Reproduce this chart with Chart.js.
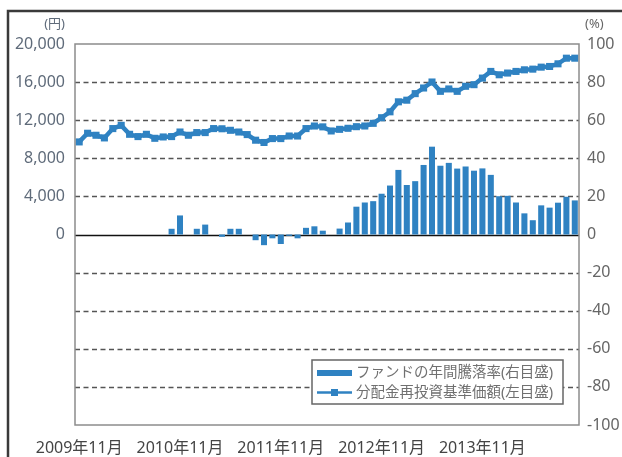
<!DOCTYPE html>
<html><head><meta charset="utf-8">
<script src="https://cdn.jsdelivr.net/npm/chart.js@4/dist/chart.umd.min.js"></script>
<style>html,body{margin:0;padding:0;background:#fff}#wrap{position:relative;width:622px;height:457px}</style>
</head><body><div id="wrap"><canvas id="c" width="622" height="457"></canvas></div>
<script>
const categories = [
"2009/11","2009/12",
"2010/01","2010/02","2010/03","2010/04","2010/05","2010/06","2010/07","2010/08","2010/09","2010/10","2010/11","2010/12",
"2011/01","2011/02","2011/03","2011/04","2011/05","2011/06","2011/07","2011/08","2011/09","2011/10","2011/11","2011/12",
"2012/01","2012/02","2012/03","2012/04","2012/05","2012/06","2012/07","2012/08","2012/09","2012/10","2012/11","2012/12",
"2013/01","2013/02","2013/03","2013/04","2013/05","2013/06","2013/07","2013/08","2013/09","2013/10","2013/11","2013/12",
"2014/01","2014/02","2014/03","2014/04","2014/05","2014/06","2014/07","2014/08","2014/09","2014/10"];
const tickCategories = ["2009/11","2010/11","2011/11","2012/11","2013/11"];
const tickLabels = ["2009年11月","2010年11月","2011年11月","2012年11月","2013年11月"];
// 分配金再投資基準価額 (円, left axis)
const navValues = [9720,10630,10420,10140,11120,11460,10520,10280,10520,10100,
10240,10280,10760,10420,10700,10700,11120,11100,10940,10760,
10490,9900,9660,10070,10070,10340,10340,11120,11390,11300,
10870,11040,11150,11320,11390,11670,12260,12880,13930,14100,
14790,15380,16010,15030,15280,15030,15560,15730,16420,17120,
16770,16950,17120,17290,17360,17570,17640,17920,18510,18510];
// ファンドの年間騰落率 (%, right axis)
const returnValues = [null,null,null,null,null,null,null,null,null,null,
null,3,10,null,3,5.2,null,-1.2,3,3,
null,-3,-5.6,-2,-5,-0.7,-2,3.5,4.3,2,
null,3.1,6.3,14.6,16.8,17.5,21.4,25.7,33.9,26,
28,36.5,46.1,36.1,37.6,34.6,35.7,33.5,34.7,31.3,
20.1,20.3,16.8,11.1,7.5,15.3,14.1,16.7,19.8,17.9];
const seriesNames = ["ファンドの年間騰落率(右目盛)","分配金再投資基準価額(左目盛)"];
const leftUnit = "(円)", rightUnit = "(%)";

const BLUE = '#2f82c2';
const FONT = "'Noto Sans', 'Noto Sans CJK JP', sans-serif";

const decor = {
  id: 'decor',
  beforeDraw(chart) {
    const ctx = chart.ctx;
    ctx.save();
    ctx.fillStyle = '#fff';
    ctx.fillRect(0, 0, chart.width, chart.height);
    ctx.strokeStyle = '#3a3a3a';
    ctx.lineWidth = 2.5;
    ctx.beginPath();
    ctx.moveTo(8, chart.height + 2);
    ctx.lineTo(8, 11);
    ctx.lineTo(chart.width + 2, 11);
    ctx.stroke();
    ctx.restore();
  },
  beforeDatasetsDraw(chart) {
    const ctx = chart.ctx, a = chart.chartArea, s = chart.scales.y1;
    ctx.save();
    s.ticks.forEach(t => {
      if (t.value === s.max || t.value === s.min) return;
      const y = Math.round(s.getPixelForValue(t.value)) + 0.5;
      ctx.beginPath();
      if (t.value === 0) {
        ctx.setLineDash([]);
        ctx.strokeStyle = '#111';
        ctx.lineWidth = 1.5;
      } else {
        ctx.setLineDash([5, 3.5]);
        ctx.strokeStyle = '#555';
        ctx.lineWidth = 1.3;
      }
      ctx.moveTo(a.left, y);
      ctx.lineTo(a.right, y);
      ctx.stroke();
    });
    ctx.restore();
  },
  afterDatasetsDraw(chart) {
    const ctx = chart.ctx, a = chart.chartArea;
    ctx.save();
    ctx.strokeStyle = '#8c8c8c';
    ctx.lineWidth = 1.5;
    ctx.strokeRect(a.left, a.top, a.right - a.left, a.bottom - a.top);
    ctx.restore();
  },
  afterDraw(chart) {
    const ctx = chart.ctx, a = chart.chartArea;
    ctx.save();
    ctx.font = "13px " + FONT;
    ctx.fillStyle = '#5f6b7a';
    ctx.textBaseline = 'middle';
    ctx.textAlign = 'right';
    ctx.fillText(leftUnit, a.left - 10, 24);
    ctx.fillStyle = '#666';
    ctx.textAlign = 'left';
    ctx.fillText(rightUnit, a.right + 6, 24);
    // legend
    const lx = 312, ly = 360, lw = 251, lh = 44;
    ctx.fillStyle = '#fff';
    ctx.fillRect(lx, ly, lw, lh);
    ctx.strokeStyle = '#666';
    ctx.lineWidth = 1.5;
    ctx.strokeRect(lx, ly, lw, lh);
    ctx.fillStyle = BLUE;
    ctx.fillRect(317, 370, 35, 6);
    ctx.strokeStyle = BLUE;
    ctx.lineWidth = 2.5;
    ctx.beginPath();
    ctx.moveTo(317, 392.5);
    ctx.lineTo(352, 392.5);
    ctx.stroke();
    ctx.fillRect(331, 389, 7, 7);
    ctx.font = "14.5px " + FONT;
    ctx.fillStyle = '#707070';
    ctx.textAlign = 'left';
    ctx.textBaseline = 'middle';
    ctx.fillText(seriesNames[0], 356, 373);
    ctx.fillText(seriesNames[1], 356, 393);
    ctx.restore();
  }
};

new Chart(document.getElementById('c'), {
  type: 'bar',
  data: {
    labels: categories,
    datasets: [
      {
        type: 'line', label: seriesNames[1], data: navValues, yAxisID: 'y', order: 0,
        borderColor: BLUE, backgroundColor: BLUE, borderWidth: 4.5,
        pointStyle: 'rect', pointRadius: 5, pointBorderWidth: 0, pointBackgroundColor: BLUE,
        tension: 0, fill: false
      },
      {
        type: 'bar', label: seriesNames[0], data: returnValues, yAxisID: 'y1', order: 1,
        backgroundColor: BLUE, borderWidth: 0, barPercentage: 0.72, categoryPercentage: 1
      }
    ]
  },
  options: {
    responsive: false, animation: false, maintainAspectRatio: false,
    layout: { padding: { top: 44, left: 0, right: 0, bottom: 0 } },
    plugins: { legend: { display: false }, tooltip: { enabled: false } },
    scales: {
      x: {
        grid: { display: false, drawTicks: false }, border: { display: false },
        ticks: {
          autoSkip: false, maxRotation: 0, minRotation: 0, padding: 14,
          color: '#444', font: { family: FONT, size: 16 },
          callback: function (v, i) {
            const k = tickCategories.indexOf(categories[i]);
            return k >= 0 ? tickLabels[k] : '';
          }
        },
        afterFit(s) { s.height = 32; }
      },
      y: {
        position: 'left', min: -20000, max: 20000,
        grid: { display: false, drawTicks: false }, border: { display: false },
        ticks: {
          stepSize: 4000, padding: 10, color: '#5f6b7a', font: { family: FONT, size: 16 },
          callback: v => v >= 0 ? v.toLocaleString('en-US') : ''
        },
        afterFit(s) { s.width = 75; }
      },
      y1: {
        position: 'right', min: -100, max: 100,
        grid: { display: false, drawTicks: false }, border: { display: false },
        ticks: { stepSize: 20, padding: 8, color: '#666', font: { family: FONT, size: 16 } },
        afterFit(s) { s.width = 43; }
      }
    }
  },
  plugins: [decor]
});
</script>
</body></html>
